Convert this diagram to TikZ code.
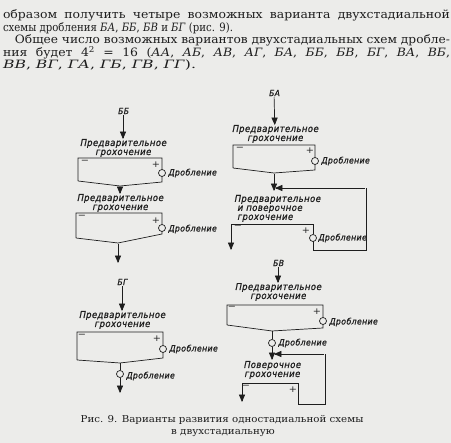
\documentclass[tikz,border=0pt]{standalone}
\usepackage{fontspec}
\setmainfont{DejaVu Serif}[FakeStretch=1.08]
\newfontfamily\drawfont{DejaVu Sans Condensed}[FakeSlant=0.2, FakeBold=0.8, LetterSpace=4]
\usetikzlibrary{arrows}
\definecolor{paper}{RGB}{236,236,234}
\definecolor{ink}{RGB}{30,30,30}

\begin{document}
\begin{tikzpicture}[x = 1pt, y = -1pt, every node/.style = {inner sep = 0pt,
	outer sep = 0pt, text = ink}, line width = 0.7pt, draw = ink,
	textline/.style = {anchor = base west, font = \fontsize{11.5}{12}\selectfont},
	caption/.style = {anchor = base, font = \fontsize{9.5}{11}\selectfont},
	scheme/.style = {align = center, font = \drawfont\fontsize{9.5}{9}\selectfont},
	variant/.style = {font = \drawfont\fontsize{8.5}{8}\selectfont},
	sign/.style = {font = \fontsize{9}{9}\selectfont},
	crusher/.style = {circle, draw = ink, minimum size = 7pt, line width = 0.7pt},
	product/.style = {anchor = west, font = \drawfont\fontsize{8.7}{9}\selectfont},
	flow/.style = {-triangle 45, draw = ink}]

	\fill[paper] (0,0) rectangle (451,443);

	% text above the figure
	\node[textline] (line1) at ( 3, 19) {\makebox[447pt][s]{образом получить четыре возможных варианта двухстадиальной}};
	\node[textline] (line2) at ( 3, 31.5) {\resizebox{230pt}{\height}{схемы дробления \textit{БА}, \textit{ББ}, \textit{БВ} и \textit{БГ} (рис. 9).}};
	\node[textline] (line3) at (15, 44) {\resizebox{435pt}{\height}{Общее число возможных вариантов двухстадиальных схем дробле-}};
	\node[textline] (line4) at ( 3, 56.5) {\makebox[447pt][s]{ния будет 4\textsuperscript{2} = 16 (\textit{АА}, \textit{АБ}, \textit{АВ}, \textit{АГ}, \textit{БА}, \textit{ББ}, \textit{БВ}, \textit{БГ}, \textit{ВА}, \textit{ВБ},}};
	\node[textline] (line5) at ( 3, 69) {\resizebox{193pt}{\height}{\textit{ВВ}, \textit{ВГ}, \textit{ГА}, \textit{ГБ}, \textit{ГВ}, \textit{ГГ}).}};

	% variant BB
	\node[variant] (BB)      at (123, 111) {ББ};
	\node[scheme]  (BBtext1) at (123, 148) {Предварительное\\грохочение};
	\coordinate (BB1nw)  at ( 78, 158);
	\coordinate (BB1ne)  at (162, 158);
	\coordinate (BB1sw)  at ( 78, 181);
	\coordinate (BB1out) at (120, 186);
	\coordinate (BB1se)  at (162, 182);
	\node[crusher] (BB1c) at (162, 173) {};
	\node[sign] (BB1minus) at ( 85, 162) {−};
	\node[sign] (BB1plus)  at (156, 165) {+};
	\node[product] (BB1d) at (168, 173) {Дробление};
	\node[scheme]  (BBtext2) at (120, 203) {Предварительное\\грохочение};
	\coordinate (BB2nw)  at ( 76, 213);
	\coordinate (BB2ne)  at (162, 213);
	\coordinate (BB2sw)  at ( 76, 238);
	\coordinate (BB2out) at (118, 243);
	\coordinate (BB2se)  at (162, 234);
	\coordinate (BB2end) at (118, 263);
	\node[crusher] (BB2c) at (162, 228) {};
	\node[sign] (BB2minus) at ( 82, 217) {−};
	\node[sign] (BB2plus)  at (156, 221) {+};
	\node[product] (BB2d) at (168, 229) {Дробление};

	% variant BA
	\node[variant] (BA)      at (274,  93) {БА};
	\node[scheme]  (BAtext1) at (275, 134) {Предварительное\\грохочение};
	\coordinate (BA1nw)  at (233, 145);
	\coordinate (BA1ne)  at (315, 145);
	\coordinate (BA1sw)  at (233, 168);
	\coordinate (BA1out) at (274, 173);
	\coordinate (BA1se)  at (315, 170);
	\coordinate (BAjoin) at (274, 191);
	\node[crusher] (BA1c) at (315, 161) {};
	\node[sign] (BA1minus) at (240, 149) {−};
	\node[sign] (BA1plus)  at (310, 151) {+};
	\node[product] (BA1d) at (321, 161) {Дробление};
	\node[scheme, align = left, anchor = north west] (BAtext2) at (234, 195)
		{Предварительное\\\ и поверочное\\\ грохочение};
	\coordinate (BA2nw)   at (231, 224);
	\coordinate (BA2ne)   at (313, 224);
	\coordinate (BA2se)   at (313, 250);
	\coordinate (BA2end)  at (231, 250);
	\coordinate (BAloop1) at (366, 250);
	\coordinate (BAloop2) at (366, 188);
	\coordinate (BAback)  at (275, 188);
	\node[crusher] (BA2c) at (313, 238) {};
	\node[sign] (BA2minus) at (238, 227) {−};
	\node[sign] (BA2plus)  at (306, 231) {+};
	\node[product] (BA2d) at (318, 238) {Дробление};

	% variant BG
	\node[variant] (BG)     at (122, 282) {БГ};
	\node[scheme]  (BGtext) at (122, 320) {Предварительное\\грохочение};
	\coordinate (BG1nw)  at ( 77, 332);
	\coordinate (BG1ne)  at (163, 332);
	\coordinate (BG1sw)  at ( 77, 360);
	\coordinate (BG1out) at (120, 363);
	\coordinate (BG1se)  at (163, 358);
	\coordinate (BGend)  at (120, 393);
	\node[crusher] (BG1c) at (163, 349) {};
	\node[crusher] (BG2c) at (120, 374) {};
	\node[sign] (BGminus) at ( 82, 336) {−};
	\node[sign] (BGplus)  at (157, 339) {+};
	\node[product] (BG1d) at (169, 349) {Дробление};
	\node[product] (BG2d) at (126, 376) {Дробление};

	% variant BV
	\node[variant] (BV)      at (278, 263) {БВ};
	\node[scheme]  (BVtext1) at (278, 292) {Предварительное\\грохочение};
	\coordinate (BV1nw)  at (227, 305);
	\coordinate (BV1ne)  at (323, 305);
	\coordinate (BV1sw)  at (227, 325);
	\coordinate (BV1out) at (272, 331);
	\coordinate (BV1se)  at (323, 328);
	\coordinate (BVjoin) at (272, 360);
	\node[crusher] (BV1c) at (323, 321) {};
	\node[crusher] (BV2c) at (272, 343) {};
	\node[sign] (BV1minus) at (232, 308) {−};
	\node[sign] (BV1plus)  at (317, 312) {+};
	\node[product] (BV1d) at (329, 322) {Дробление};
	\node[product] (BV2d) at (278, 343) {Дробление};
	\node[scheme]  (BVtext2) at (272, 370) {Поверочное\\грохочение};
	\coordinate (BV2nw)   at (242, 383);
	\coordinate (BV2ne)   at (298, 383);
	\coordinate (BV2se)   at (298, 404);
	\coordinate (BV2end)  at (242, 402);
	\coordinate (BVloop1) at (325, 404);
	\coordinate (BVloop2) at (325, 354);
	\coordinate (BVback)  at (274, 354);
	\node[sign] (BV2minus) at (246, 387) {−};
	\node[sign] (BV2plus)  at (293, 390) {+};

	% screens
	\draw (BB1sw) -- (BB1nw) -- (BB1ne) -- (BB1c) (BB1c) -- (BB1se) -- (BB1out) -- (BB1sw);
	\draw (BB2sw) -- (BB2nw) -- (BB2ne) -- (BB2c) (BB2c) -- (BB2se) -- (BB2out) -- (BB2sw);
	\draw (BA1sw) -- (BA1nw) -- (BA1ne) -- (BA1c) (BA1c) -- (BA1se) -- (BA1out) -- (BA1sw);
	\draw (BA2nw) -- (BA2ne) -- (BA2c) (BA2c) -- (BA2se) -- (BAloop1) -- (BAloop2);
	\draw (BG1sw) -- (BG1nw) -- (BG1ne) -- (BG1c) (BG1c) -- (BG1se) -- (BG1out) -- (BG1sw);
	\draw (BG1out) -- (BG2c);
	\draw (BV1sw) -- (BV1nw) -- (BV1ne) -- (BV1c) (BV1c) -- (BV1se) -- (BV1out) -- (BV1sw);
	\draw (BV1out) -- (BV2c);
	\draw (BV2nw) -- (BV2ne) -- (BV2se) -- (BVloop1) -- (BVloop2);

	% material flow
	\foreach \from/\to in {BB/BBtext1, BB1out/BBtext2, BB2out/BB2end, BA/BAtext1,
		BA1out/BAjoin, BAloop2/BAback, BA2nw/BA2end, BG/BGtext, BG2c/BGend,
		BV/BVtext1, BV2c/BVjoin, BVloop2/BVback, BV2nw/BV2end}
		\draw[flow, shorten < = 1pt] (\from) -- (\to);

	% caption
	\node[caption] (cap1) at (222, 423) {Рис. 9. Варианты развития одностадиальной схемы};
	\node[caption] (cap2) at (223, 435) {в двухстадиальную};
\end{tikzpicture}
\end{document}
